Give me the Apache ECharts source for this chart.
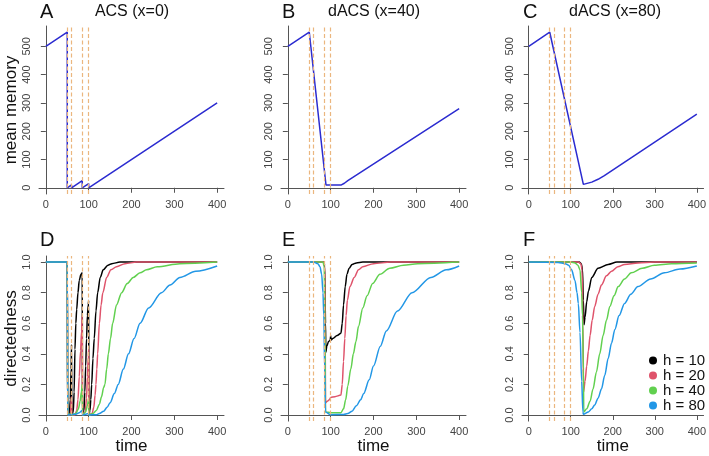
<!DOCTYPE html>
<html style="height: 100%">
  <head>
    <meta charset="utf-8">
  </head>
  <body style="height: 100%; margin: 0">
    <div id="container" style="width: 709px; height: 456px"></div>
    <script type="text/javascript" src="https://cdn.jsdelivr.net/npm/echarts@6/dist/echarts.min.js"></script>
    <script type="text/javascript">
      // tick labels and stimulus times
      let xTicks = [0, 100, 200, 300, 400];
      let memTicks = [0, 100, 200, 300, 400, 500];
      let dirTicks = [0, 0.2, 0.4, 0.6, 0.8, 1];
      let stimTimes = [50, 60, 85, 100];

      let panelLetters = ['A', 'B', 'C', 'D', 'E', 'F'];
      let panelTitles = ['ACS (x=0)', 'dACS (x=40)', 'dACS (x=80)'];
      let hNames = ['h = 10', 'h = 20', 'h = 40', 'h = 80'];
      let hColors = ['#000000', '#DF536B', '#61D04F', '#2297E6'];

      // mean memory (top row)
      let memA = [[0, 500], [50, 550], [50, 0], [60, 10], [60, 0], [85, 25], [85, 0], [100, 15], [100, 0], [400, 300]];
      let memB = [[0, 500], [50, 550], [89, 10], [125, 10], [132, 16], [140, 25], [400, 280]];
      let memC = [[0, 500], [50, 550], [130, 12], [150, 20], [165, 30], [180, 43], [400, 260]];

      // directedness, panel D (ACS)
      let dirD10 = [[0, 1], [50, 1], [51, 0], [55, 0], [57, 0.1], [59, 0.3], [60, 0.46], [60.5, 0], [64, 0.02], [66, 0.15], [68, 0.43], [70, 0.6], [72, 0.69], [75, 0.8], [78, 0.88], [82, 0.92], [85, 0.93], [85.5, 0], [89, 0.03], [91, 0.15], [93, 0.32], [95, 0.5], [97, 0.65], [99, 0.72], [100, 0.75], [100.5, 0], [103, 0.03], [105, 0.1], [107, 0.2], [110, 0.37], [113, 0.5], [117, 0.68], [121, 0.8], [127, 0.9], [134, 0.95], [145, 0.98], [154, 0.99], [173, 1], [400, 1]];
      let dirD20 = [[0, 1], [50, 1], [51, 0], [57, 0], [60, 0.12], [60.5, 0], [68, 0], [72, 0.03], [75, 0.1], [78, 0.25], [81, 0.42], [83.5, 0.55], [85, 0.65], [85.5, 0], [92, 0.02], [95, 0.11], [97, 0.25], [99, 0.38], [100, 0.43], [100.5, 0], [108, 0.01], [112, 0.05], [115, 0.13], [117, 0.2], [119, 0.3], [121, 0.4], [125, 0.6], [129, 0.72], [133, 0.8], [142, 0.9], [152, 0.95], [165, 0.97], [185, 0.99], [212, 1], [400, 1]];
      let dirD40 = [[0, 1], [50, 1], [51, 0], [60, 0.01], [60.5, 0], [70, 0.01], [76, 0.04], [80, 0.09], [83, 0.15], [85, 0.2], [85.5, 0], [93, 0.02], [97, 0.06], [100, 0.11], [100.5, 0], [110, 0.01], [118, 0.03], [125, 0.07], [130, 0.12], [135, 0.18], [138, 0.2], [142, 0.3], [146, 0.4], [151, 0.5], [156, 0.6], [165, 0.72], [177, 0.8], [190, 0.86], [204, 0.9], [220, 0.93], [235, 0.95], [260, 0.97], [313, 0.99], [400, 1]];
      let dirD80 = [[0, 1], [50, 1], [51, 0], [70, 0.005], [78, 0.015], [85, 0.03], [85.5, 0], [100, 0.01], [100.5, 0], [118, 0.002], [125, 0.01], [135, 0.025], [143, 0.05], [150, 0.08], [160, 0.14], [169, 0.2], [181, 0.3], [193, 0.4], [206, 0.5], [220, 0.6], [240, 0.7], [270, 0.8], [290, 0.85], [313, 0.9], [350, 0.94], [400, 0.975]];

      // directedness, panel E (dACS x=40)
      let dirE10 = [[0, 1], [84, 1], [86, 0.98], [88, 0.6], [88.6, 0.41], [91, 0.45], [95, 0.48], [99, 0.49], [100, 0.52], [101, 0.49], [105, 0.5], [115, 0.52], [124, 0.535], [127, 0.6], [130, 0.72], [134, 0.84], [138, 0.92], [143, 0.96], [150, 0.985], [160, 0.995], [175, 1], [400, 1]];
      let dirE20 = [[0, 1], [84, 1], [86, 0.97], [87, 0.6], [88, 0.08], [92, 0.09], [97, 0.1], [100, 0.115], [110, 0.12], [124, 0.13], [127, 0.2], [130, 0.35], [133, 0.5], [136, 0.65], [139, 0.75], [145, 0.84], [155, 0.9], [165, 0.95], [175, 0.97], [200, 0.99], [240, 1], [400, 1]];
      let dirE40 = [[0, 1], [82, 1], [85, 0.97], [86.5, 0.6], [88, 0.02], [100, 0.015], [124, 0.015], [130, 0.04], [135, 0.1], [140, 0.19], [147, 0.3], [153, 0.4], [159, 0.48], [165, 0.58], [175, 0.7], [185, 0.78], [198, 0.86], [215, 0.92], [238, 0.96], [270, 0.98], [303, 0.99], [400, 1]];
      let dirE80 = [[0, 1], [60, 1], [70, 0.99], [75, 0.97], [79, 0.92], [82, 0.8], [84, 0.65], [86, 0.3], [88, 0.02], [100, 0.002], [130, 0.003], [140, 0.01], [150, 0.025], [160, 0.06], [170, 0.1], [177, 0.14], [190, 0.23], [200, 0.32], [216, 0.45], [230, 0.55], [256, 0.68], [290, 0.8], [334, 0.9], [370, 0.95], [400, 0.975]];

      // directedness, panel F (dACS x=80)
      let dirF10 = [[0, 1], [120, 1], [125, 0.99], [128, 0.95], [130, 0.75], [131.5, 0.59], [134, 0.64], [138, 0.74], [142, 0.81], [150, 0.9], [165, 0.96], [189, 0.985], [210, 1], [400, 1]];
      let dirF20 = [[0, 1], [118, 1], [124, 0.99], [127, 0.95], [129, 0.6], [130.5, 0.15], [134, 0.22], [138, 0.32], [142, 0.42], [146, 0.52], [151, 0.62], [157, 0.71], [165, 0.79], [173, 0.85], [185, 0.91], [197, 0.94], [212, 0.97], [228, 0.985], [260, 0.995], [300, 1], [400, 1]];
      let dirF40 = [[0, 1], [100, 1], [110, 0.995], [117, 0.98], [122, 0.95], [126, 0.8], [128, 0.65], [130, 0.3], [131, 0.02], [138, 0.04], [146, 0.09], [153, 0.17], [161, 0.28], [169, 0.4], [177, 0.52], [185, 0.62], [193, 0.71], [203, 0.78], [213, 0.84], [228, 0.89], [244, 0.93], [270, 0.96], [299, 0.98], [340, 0.99], [400, 0.995]];
      let dirF80 = [[0, 1], [70, 0.998], [87, 0.99], [95, 0.98], [102, 0.95], [110, 0.88], [115, 0.8], [118, 0.73], [122, 0.54], [126, 0.22], [129, 0.02], [130, 0.005], [142, 0.02], [150, 0.04], [157, 0.065], [165, 0.11], [173, 0.17], [181, 0.26], [189, 0.37], [197, 0.47], [205, 0.56], [215, 0.65], [228, 0.73], [243, 0.79], [260, 0.84], [290, 0.89], [323, 0.93], [360, 0.955], [400, 0.975]];

      let memData = [memA, memB, memC];
      let dirData = [
        [dirD10, dirD20, dirD40, dirD80],
        [dirE10, dirE20, dirE40, dirE80],
        [dirF10, dirF20, dirF40, dirF80]
      ];

      let font = 'Liberation Sans, Arial, sans-serif';
      let axisColor = '#555';
      let lefts = [39, 281, 522];

      let dom = document.getElementById('container');
      let myChart = echarts.init(dom);

      let grids = [], xAxes = [], yAxes = [], series = [], titles = [];

      function stimLines() {
        return {
          silent: true,
          symbol: 'none',
          label: { show: false },
          lineStyle: { color: '#EBB67E', type: [4, 2.5], width: 1.2 },
          z: 10,
          data: stimTimes.map(function (t) { return { xAxis: t }; })
        };
      }

      for (let row = 0; row < 2; row++) {
        for (let col = 0; col < 3; col++) {
          let gi = row * 3 + col;
          grids.push({
            left: lefts[col],
            top: row === 0 ? 26 : 256,
            width: 185,
            height: row === 0 ? 168 : 167
          });
          xAxes.push({
            type: 'value',
            gridIndex: gi,
            min: -16,
            max: 416,
            splitLine: { show: false },
            axisLine: { show: true, lineStyle: { color: axisColor } },
            axisTick: { show: true, customValues: xTicks, length: 5, lineStyle: { color: axisColor } },
            axisLabel: { customValues: xTicks, color: '#444', fontSize: 11, fontFamily: font, margin: 5 },
            name: row === 1 ? 'time' : '',
            nameLocation: 'middle',
            nameGap: 16,
            nameTextStyle: { fontSize: 17, color: '#111', fontFamily: font, verticalAlign: 'top' }
          });
          let yticks = row === 0 ? memTicks : dirTicks;
          yAxes.push({
            type: 'value',
            gridIndex: gi,
            min: row === 0 ? -22 : -0.04,
            max: row === 0 ? 572 : 1.04,
            splitLine: { show: false },
            axisLine: { show: true, lineStyle: { color: axisColor } },
            axisTick: { show: true, customValues: yticks, length: 5, lineStyle: { color: axisColor } },
            axisLabel: {
              customValues: yticks,
              rotate: 90,
              color: '#444',
              fontSize: 11,
              fontFamily: font,
              margin: 7,
              formatter: function (v) { return row === 0 ? String(v) : v.toFixed(1); }
            },
            name: col === 0 ? (row === 0 ? 'mean memory' : 'directedness') : '',
            nameLocation: 'middle',
            nameRotate: 90,
            nameGap: 18,
            nameTextStyle: { fontSize: 17, color: '#111', fontFamily: font }
          });
          titles.push({
            text: panelLetters[gi],
            left: lefts[col] + 1,
            top: row === 0 ? 2 : 230,
            padding: 0,
            textStyle: { fontSize: 20, fontWeight: 'normal', color: '#111', fontFamily: font }
          });
          if (row === 0) {
            titles.push({
              text: panelTitles[col],
              left: lefts[col] + 93,
              top: 4,
              padding: 0,
              textAlign: 'center',
              textStyle: { fontSize: 16, fontWeight: 'normal', color: '#111', fontFamily: font }
            });
            series.push({
              type: 'line',
              xAxisIndex: gi,
              yAxisIndex: gi,
              data: memData[col],
              showSymbol: false,
              symbol: 'none',
              lineStyle: { color: '#2B2BD0', width: 1.5 },
              markLine: stimLines()
            });
          } else {
            for (let k = 0; k < 4; k++) {
              series.push({
                type: 'line',
                name: hNames[k],
                xAxisIndex: gi,
                yAxisIndex: gi,
                data: dirData[col][k],
                showSymbol: false,
                symbol: 'none',
                smooth: 0.3,
                smoothMonotone: 'x',
                color: hColors[k],
                lineStyle: { color: hColors[k], width: 1.5 },
                markLine: k === 3 ? stimLines() : undefined
              });
            }
          }
        }
      }

      let option = {
        animation: false,
        backgroundColor: '#fff',
        title: titles,
        grid: grids,
        xAxis: xAxes,
        yAxis: yAxes,
        legend: {
          data: hNames.map(function (n) { return { name: n, icon: 'circle' }; }),
          orient: 'vertical',
          left: 644,
          top: 348,
          itemWidth: 8,
          itemHeight: 8,
          itemGap: 0,
          selectedMode: false,
          textStyle: { fontSize: 15, color: '#111', fontFamily: font, lineHeight: 15, padding: [0, 0, 0, 1] }
        },
        series: series
      };

      myChart.setOption(option);
    </script>
  </body>
</html>
